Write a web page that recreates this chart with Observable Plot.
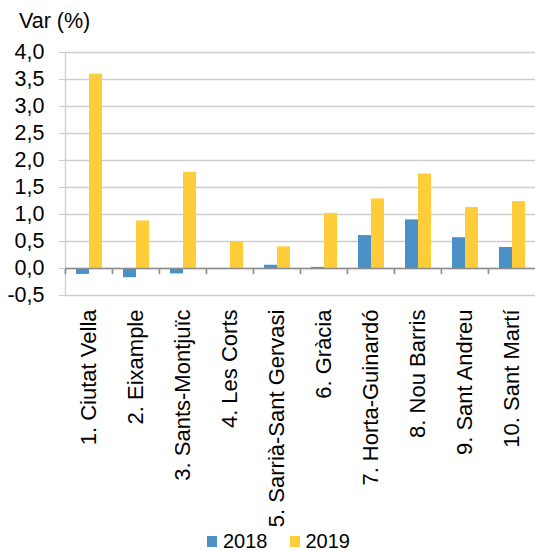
<!DOCTYPE html>
<html>
<head>
<meta charset="utf-8">
<script src="https://cdn.jsdelivr.net/npm/d3@7"></script>
<script src="https://cdn.jsdelivr.net/npm/@observablehq/plot@0.6"></script>
<style>
  body { margin: 0; background: #fff; font-family: "Liberation Sans", Arial, sans-serif; }
  #wrap { position: relative; width: 535px; height: 551px; overflow: hidden; }
  #ylabel { position: absolute; left: 19px; top: 11px; font-size: 21.5px; line-height: 21px; color: #000; white-space: nowrap; }
  #legend { position: absolute; left: 207px; top: 531px; font-size: 20px; line-height: 20px; display: flex; align-items: center; color: #000; }
  #legend .sw { width: 10px; height: 11px; display: inline-block; margin-right: 6px; }
  #legend .item { display: flex; align-items: center; margin-right: 22px; }
  svg { position: absolute; left: 0; top: 0; }
</style>
</head>
<body>
<div id="wrap">
  <div id="ylabel">Var (%)</div>
</div>
<script>
const districts = [
  "1. Ciutat Vella", "2. Eixample", "3. Sants-Montjuïc", "4. Les Corts",
  "5. Sarrià-Sant Gervasi", "6. Gràcia", "7. Horta-Guinardó", "8. Nou Barris",
  "9. Sant Andreu", "10. Sant Martí"
];
const years = ["2018", "2019"];
const values2018 = [-0.11, -0.17, -0.10, -0.01, 0.06, 0.02, 0.61, 0.90, 0.57, 0.39];
const values2019 = [3.60, 0.88, 1.78, 0.50, 0.40, 1.02, 1.29, 1.75, 1.13, 1.24];
const yTicks = [-0.5, 0, 0.5, 1, 1.5, 2, 2.5, 3, 3.5, 4];
const colors = ["#4A92C6", "#FFCD3A"];

const data = [];
districts.forEach((d, i) => {
  data.push({district: d, year: years[0], value: values2018[i]});
  data.push({district: d, year: years[1], value: values2019[i]});
});

const W = 535, H = 551, ML = 64, MR = 0;
const bw = (W - ML - MR) / districts.length;
const fmt = v => v.toFixed(1).replace(".", ",");

const chart = Plot.plot({
  width: W,
  height: H,
  marginLeft: ML,
  marginRight: MR,
  marginTop: 52,
  marginBottom: 256,
  style: {fontFamily: "'Liberation Sans', Arial, sans-serif", background: "transparent", overflow: "visible"},
  fx: {domain: districts, padding: 0},
  x: {domain: years, paddingInner: 0, paddingOuter: 0.77, axis: null},
  y: {domain: [-0.5, 4]},
  color: {domain: years, range: colors},
  marks: [
    Plot.ruleY(yTicks, {stroke: "#cdcdcd", strokeWidth: 1.3}),
    Plot.ruleX([districts[0]], {fx: d => d, x: null, y1: -0.5, y2: 4, dx: -bw / 2, stroke: "#cdcdcd", strokeWidth: 1.3}),
    Plot.barY(data, {fx: "district", x: "year", y: "value", fill: "year"}),
    Plot.ruleY([0], {stroke: "#8c8c8c", strokeWidth: 1.6}),
    Plot.ruleX([0], {x: null, y1: 0, y2: -0.115, dx: -bw / 2, stroke: "#8c8c8c", strokeWidth: 1.6}),
    Plot.axisY({ticks: yTicks, tickFormat: fmt, tickSize: 6, tickPadding: 15, stroke: "#cdcdcd", fill: "#000", fontSize: 21.5, label: null}),
    Plot.axisFx({anchor: "bottom", tickRotate: -90, tickSize: 0, tickPadding: 14, fontSize: 22, fill: "#000", label: null})
  ]
});

const wrap = document.getElementById("wrap");
wrap.insertBefore(chart, wrap.firstChild);

const legend = document.createElement("div");
legend.id = "legend";
years.forEach((y, i) => {
  const item = document.createElement("div");
  item.className = "item";
  const sw = document.createElement("span");
  sw.className = "sw";
  sw.style.background = colors[i];
  item.appendChild(sw);
  item.appendChild(document.createTextNode(y));
  legend.appendChild(item);
});
wrap.appendChild(legend);
</script>
</body>
</html>
